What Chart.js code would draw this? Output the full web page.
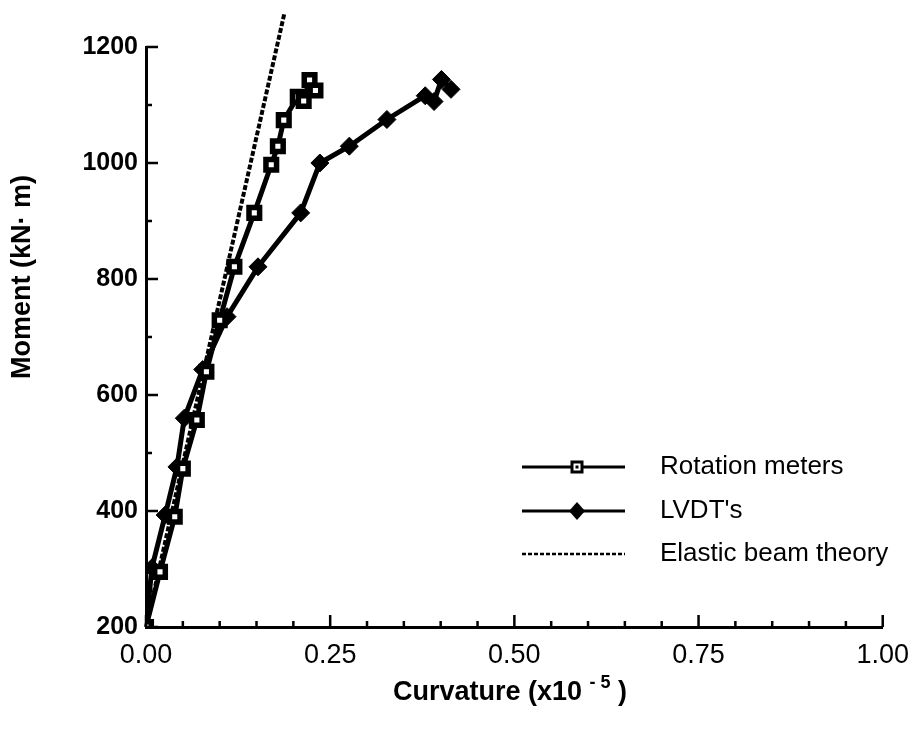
<!DOCTYPE html>
<html>
<head>
<meta charset="utf-8">
<title>Moment vs curvature</title>
<script src="https://cdn.jsdelivr.net/npm/chart.js@4.4.1/dist/chart.umd.min.js"></script>
<style>
  html, body { margin: 0; padding: 0; background: #fff; }
  #wrap { width: 921px; height: 729px; }
</style>
</head>
<body>
<div id="wrap"><canvas id="mc_chart" width="921" height="729"></canvas></div>
<script>
// DATA

// Rotation meters
const rotX = [0.000, 0.019, 0.039, 0.050, 0.069, 0.082, 0.100, 0.120, 0.147, 0.170, 0.179, 0.187, 0.206, 0.214, 0.222, 0.230];
const rotY = [200, 295, 390, 473, 557, 640, 729, 821, 914, 997, 1029, 1074, 1114, 1107, 1143, 1125];

// LVDT's
const lvdtX = [0.000, 0.008, 0.026, 0.042, 0.052, 0.077, 0.110, 0.152, 0.210, 0.236, 0.276, 0.327, 0.379, 0.391, 0.401, 0.414];
const lvdtY = [200, 302, 393, 476, 560, 644, 735, 821, 914, 1000, 1029, 1075, 1116, 1106, 1144, 1127];

// Elastic beam theory (straight line)
const elasticX = [0.000, 0.188];
const elasticY = [200, 1259];

// axis ticks
const xTicks = [0.00, 0.25, 0.50, 0.75, 1.00];
const yTicks = [200, 400, 600, 800, 1000, 1200];
const xMinorPerMajor = 5;
const yMinorPerMajor = 2;

const seriesNames = ['Rotation meters', "LVDT's", 'Elastic beam theory'];

const FONT = '"Liberation Sans", Arial, Helvetica, sans-serif';

function toPoints(xs, ys) {
	return xs.map((x, i) => ({ x: x, y: ys[i] }));
}

//==================================
// PLUGINS
//==================================

// inward pointing ticks, majors long and minors short
const tickMarks = {
	id: 'tickMarks',
	afterDraw(chart) {
		const ctx = chart.ctx;
		const a = chart.chartArea;
		const xs = chart.scales.x, ys = chart.scales.y;
		ctx.save();
		ctx.strokeStyle = '#000';
		ctx.lineWidth = 2.5;
		ctx.beginPath();
		for (let i = 0; i < xTicks.length; i++) {
			const px = xs.getPixelForValue(xTicks[i]);
			ctx.moveTo(px, a.bottom);
			ctx.lineTo(px, a.bottom - 12);
			if (i < xTicks.length - 1) {
				const step = (xTicks[i + 1] - xTicks[i]) / xMinorPerMajor;
				for (let k = 1; k < xMinorPerMajor; k++) {
					const mx = xs.getPixelForValue(xTicks[i] + k * step);
					ctx.moveTo(mx, a.bottom);
					ctx.lineTo(mx, a.bottom - 6);
				}
			}
		}
		for (let i = 0; i < yTicks.length; i++) {
			const py = ys.getPixelForValue(yTicks[i]);
			ctx.moveTo(a.left, py);
			ctx.lineTo(a.left + 12, py);
			if (i < yTicks.length - 1) {
				const step = (yTicks[i + 1] - yTicks[i]) / yMinorPerMajor;
				for (let k = 1; k < yMinorPerMajor; k++) {
					const my = ys.getPixelForValue(yTicks[i] + k * step);
					ctx.moveTo(a.left, my);
					ctx.lineTo(a.left + 6, my);
				}
			}
		}
		ctx.stroke();
		ctx.restore();
	}
};

// axis titles (x title has a superscript exponent)
const axisTitles = {
	id: 'axisTitles',
	afterDraw(chart) {
		const ctx = chart.ctx;
		ctx.save();
		ctx.fillStyle = '#000';

		// y title
		ctx.font = 'bold 27px ' + FONT;
		ctx.textAlign = 'center';
		ctx.textBaseline = 'middle';
		ctx.translate(23, 277);
		ctx.rotate(-Math.PI / 2);
		ctx.fillText('Moment (kN\u00b7 m)', 0, 0);
		ctx.setTransform(1, 0, 0, 1, 0, 0);

		// x title
		const main = 'Curvature (x10 ';
		const sup = '- 5';
		const tail = ' )';
		const bigFont = 'bold 27px ' + FONT;
		const smallFont = 'bold 18px ' + FONT;
		ctx.font = bigFont;
		const w1 = ctx.measureText(main).width;
		const w3 = ctx.measureText(tail).width;
		ctx.font = smallFont;
		const w2 = ctx.measureText(sup).width;
		const total = w1 + w2 + w3;
		let x0 = 510 - total / 2;
		const base = 700;
		ctx.textAlign = 'left';
		ctx.textBaseline = 'alphabetic';
		ctx.font = bigFont;
		ctx.fillText(main, x0, base);
		ctx.font = smallFont;
		ctx.fillText(sup, x0 + w1, base - 12);
		ctx.font = bigFont;
		ctx.fillText(tail, x0 + w1 + w2, base);
		ctx.restore();
	}
};

// legend in the lower right of the plot
const legendBox = {
	id: 'legendBox',
	afterDraw(chart) {
		const ctx = chart.ctx;
		const rows = [467, 511, 554];
		const x1 = 522, x2 = 625, xm = 577, xt = 660;
		ctx.save();
		ctx.strokeStyle = '#000';
		ctx.fillStyle = '#000';

		// rotation meters: line with open square
		ctx.lineWidth = 3;
		ctx.beginPath();
		ctx.moveTo(x1, rows[0]); ctx.lineTo(x2, rows[0]);
		ctx.stroke();
		ctx.fillStyle = '#fff';
		ctx.fillRect(xm - 5, rows[0] - 5, 10, 10);
		ctx.lineWidth = 3;
		ctx.strokeRect(xm - 5, rows[0] - 5, 10, 10);
		ctx.fillStyle = '#000';
		ctx.fillRect(xm - 1.5, rows[0] - 1.5, 3, 3);

		// LVDT's: line with filled diamond
		ctx.beginPath();
		ctx.moveTo(x1, rows[1]); ctx.lineTo(x2, rows[1]);
		ctx.stroke();
		ctx.beginPath();
		ctx.moveTo(xm, rows[1] - 9);
		ctx.lineTo(xm + 8, rows[1]);
		ctx.lineTo(xm, rows[1] + 9);
		ctx.lineTo(xm - 8, rows[1]);
		ctx.closePath();
		ctx.fill();

		// elastic: dashed
		ctx.lineWidth = 2.5;
		ctx.setLineDash([4, 2]);
		ctx.beginPath();
		ctx.moveTo(x1, rows[2]); ctx.lineTo(x2, rows[2]);
		ctx.stroke();
		ctx.setLineDash([]);

		ctx.font = '26px ' + FONT;
		ctx.textAlign = 'left';
		ctx.textBaseline = 'middle';
		for (let i = 0; i < seriesNames.length; i++) {
			ctx.fillText(seriesNames[i], xt, rows[i]);
		}
		ctx.restore();
	}
};

//==================================
// CHART
//==================================

var mcChart;

function initialize() {
	const context = document.getElementById('mc_chart').getContext('2d');

	mcChart = new Chart(context, {
		type: 'scatter',
		data: {
			datasets: [
				{
					label: seriesNames[0],
					data: toPoints(rotX, rotY),
					showLine: true,
					borderColor: '#000',
					borderWidth: 5,
					pointStyle: 'rect',
					pointRadius: 7.5,
					pointBorderWidth: 5.5,
					pointBackgroundColor: '#fff',
					pointBorderColor: '#000',
				},
				{
					label: seriesNames[1],
					data: toPoints(lvdtX, lvdtY),
					showLine: true,
					borderColor: '#000',
					borderWidth: 5,
					pointStyle: 'rectRot',
					pointRadius: 9,
					pointBorderWidth: 1,
					pointBackgroundColor: '#000',
					pointBorderColor: '#000',
				},
				{
					label: seriesNames[2],
					data: toPoints(elasticX, elasticY),
					showLine: true,
					borderColor: '#000',
					borderWidth: 4,
					borderDash: [5, 2],
					pointRadius: 0,
					clip: false,
				},
			],
		},
		options: {
			responsive: false,
			animation: false,
			devicePixelRatio: 1,
			layout: { padding: { top: 47, right: 36, left: 0, bottom: 0 } },
			plugins: {
				legend: { display: false },
				tooltip: { enabled: false },
			},
			scales: {
				x: {
					type: 'linear',
					min: 0,
					max: 1,
					afterBuildTicks: (scale) => { scale.ticks = xTicks.map(v => ({ value: v })); },
					afterFit: (scale) => { scale.height = 102; },
					ticks: {
						color: '#000',
						padding: 12,
						font: { family: FONT, size: 27 },
						callback: (v) => v.toFixed(2),
					},
					grid: { drawOnChartArea: false, drawTicks: false },
					border: { color: '#000', width: 3 },
				},
				y: {
					type: 'linear',
					min: 200,
					max: 1200,
					afterBuildTicks: (scale) => { scale.ticks = yTicks.map(v => ({ value: v })); },
					afterFit: (scale) => { scale.width = 146; },
					ticks: {
						color: '#000',
						padding: 8,
						font: { family: FONT, size: 25, weight: 'bold' },
						callback: (v) => String(v),
					},
					grid: { drawOnChartArea: false, drawTicks: false },
					border: { color: '#000', width: 3 },
				},
			},
		},
		plugins: [tickMarks, axisTitles, legendBox],
	});
}

initialize();
</script>
</body>
</html>
